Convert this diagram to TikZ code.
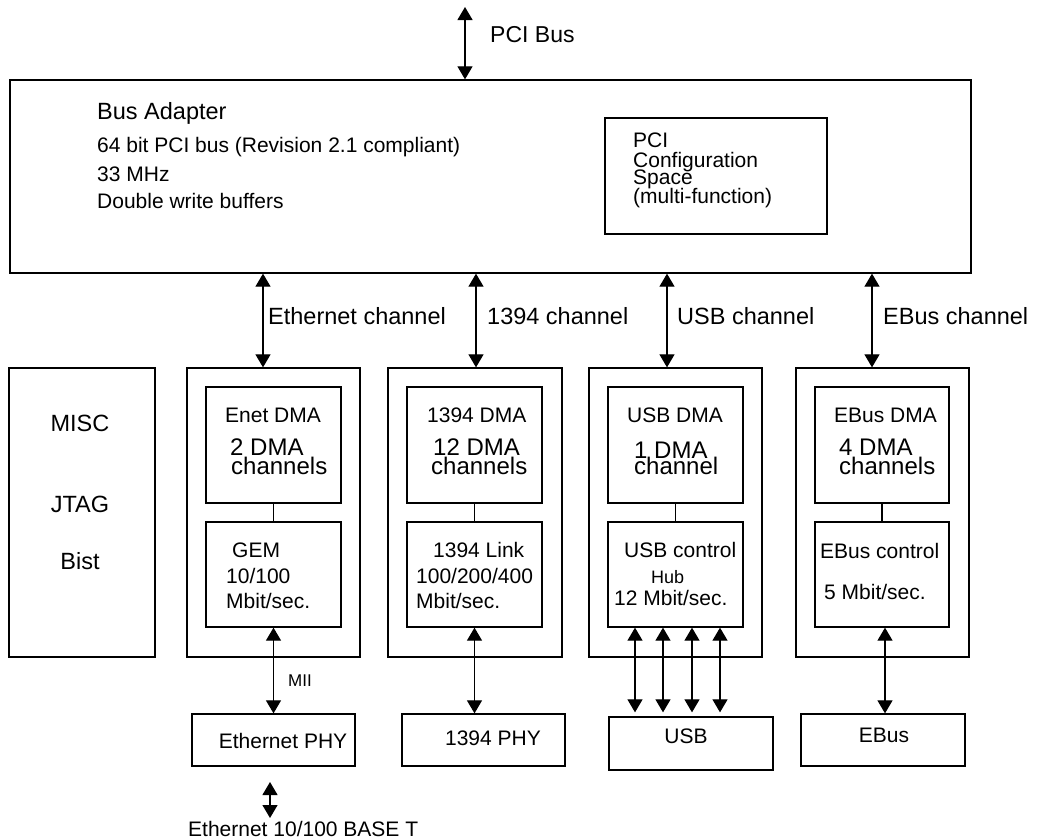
\documentclass[tikz,border=0pt]{standalone}
\usepackage{fontspec}
\setmainfont{Liberation Sans}
\usetikzlibrary{arrows.meta,calc}
\newcommand\fsz[1]{\fontsize{#1}{#1}\selectfont}
\begin{document}
\begin{tikzpicture}[x=1pt,y=-1pt,
  box/.style={draw, line width=1.3pt, inner sep=0pt, rectangle},
  t/.style={anchor=base west, inner sep=0pt, font=\fsz{21}},
  tc/.style={anchor=base, inner sep=0pt, font=\fsz{21}},
  arr/.style={line width=1.2pt, {Triangle[length=13pt,width=15pt]}-{Triangle[length=13pt,width=15pt]}},
  arrb/.style={line width=1.2pt, {Triangle[length=13pt,width=15pt]}-{Triangle[length=13pt,width=15pt]}},
  conn/.style={line width=1.2pt}]
\useasboundingbox (0,0) rectangle (1044,839);
% boxes
\node[box, minimum width=961pt, minimum height=193pt] (bus) at (490.5,176.5) {};
\node[box, minimum width=222pt, minimum height=116pt] (cfg) at (716,176) {};
\node[box, minimum width=146pt, minimum height=289pt] (misc) at (82,512.5) {};
\node[box, minimum width=173pt, minimum height=289pt] (ethout) at (273.5,512.5) {};
\node[box, minimum width=135pt, minimum height=116pt] (ethdma) at (273.5,445) {};
\node[box, minimum width=135pt, minimum height=105pt] (gem) at (273.5,574.5) {};
\node[box, minimum width=174pt, minimum height=289pt] (fwout) at (475,512.5) {};
\node[box, minimum width=135pt, minimum height=116pt] (fwdma) at (474.5,445) {};
\node[box, minimum width=135pt, minimum height=105pt] (fwlink) at (474.5,574.5) {};
\node[box, minimum width=173pt, minimum height=289pt] (usbout) at (675.5,512.5) {};
\node[box, minimum width=135pt, minimum height=116pt] (usbdma) at (675.5,445) {};
\node[box, minimum width=135pt, minimum height=105pt] (usbctl) at (675.5,574.5) {};
\node[box, minimum width=173pt, minimum height=289pt] (ebout) at (882.5,512.5) {};
\node[box, minimum width=134pt, minimum height=116pt] (ebdma) at (882,445) {};
\node[box, minimum width=134pt, minimum height=105pt] (ebctl) at (882,574.5) {};
\node[box, minimum width=163pt, minimum height=52pt] (ethphy) at (273.5,740) {};
\node[box, minimum width=163pt, minimum height=52pt] (fwphy) at (483.5,740) {};
\node[box, minimum width=164pt, minimum height=53pt] (usbbox) at (691,743.5) {};
\node[box, minimum width=164pt, minimum height=52pt] (ebbox) at (883,740) {};
% texts top
\node[t, font=\fsz{23}] (pcibus) at (490,42) {PCI Bus};
\node[t, font=\fsz{23.5}] (ba1) at (97,119) {Bus Adapter};
\node[t] (ba2) at (97,152) {64 bit PCI bus (Revision 2.1 compliant)};
\node[t] (ba3) at (97,181) {33 MHz};
\node[t] (ba4) at (97,208) {Double write buffers};
\node[t] (cf1) at (633,147) {PCI};
\node[t] (cf2) at (633,167) {Configuration};
\node[t] (cf3) at (633,184) {Space};
\node[t] (cf4) at (633,203) {(multi-function)};
% channel labels
\node[t, font=\fsz{23.5}] (l1) at (268,324) {Ethernet channel};
\node[t, font=\fsz{23.5}] (l2) at (487,324) {1394 channel};
\node[t, font=\fsz{23.5}] (l3) at (677,324) {USB channel};
\node[t, font=\fsz{23.5}] (l4) at (883,324) {EBus channel};
% misc
\node[tc, font=\fsz{23.5}] (m1) at (80,431) {MISC};
\node[tc, font=\fsz{23.5}] (m2) at (80,512) {JTAG};
\node[tc, font=\fsz{23.5}] (m3) at (80,569) {Bist};
% ethernet column
\node[t] (e1) at (225,422) {Enet DMA};
\node[t, font=\fsz{24}] (e2) at (230,455) {2 DMA};
\node[t, font=\fsz{24}] (e3) at (231,474) {channels};
\node[t] (e4) at (232,557) {GEM};
\node[t] (e5) at (226,583) {10/100};
\node[t] (e6) at (226,608) {Mbit/sec.};
% 1394 column
\node[t] (f1) at (427,422) {1394 DMA};
\node[t, font=\fsz{24}] (f2) at (433,455) {12 DMA};
\node[t, font=\fsz{24}] (f3) at (431,474) {channels};
\node[t] (f4) at (433,557) {1394 Link};
\node[t] (f5) at (416,583) {100/200/400};
\node[t] (f6) at (416,608) {Mbit/sec.};
% usb column
\node[t] (u1) at (627,422) {USB DMA};
\node[t, font=\fsz{24}] (u2) at (634,458) {1 DMA};
\node[t, font=\fsz{24}] (u3) at (634,474) {channel};
\node[t] (u4) at (624,557) {USB control};
\node[t, font=\fsz{18}] (u5) at (651,583) {Hub};
\node[t] (u6) at (614,605) {12 Mbit/sec.};
% ebus column
\node[t] (b1) at (834,422) {EBus DMA};
\node[t, font=\fsz{24}] (b2) at (839,455) {4 DMA};
\node[t, font=\fsz{24}] (b3) at (839,474) {channels};
\node[t] (b4) at (820,558) {EBus control};
\node[t] (b5) at (824,599) {5 Mbit/sec.};
% bottom texts
\node[t, font=\fsz{17}] (mii) at (288,686) {MII};
\node[tc] (tp1) at (283,748) {Ethernet PHY};
\node[tc] (tp2) at (493,745) {1394 PHY};
\node[tc] (tp3) at (686,743) {USB};
\node[tc] (tp4) at (884,742) {EBus};
\node[t] (bt) at (188,836) {Ethernet 10/100 BASE T};
% coordinates
\coordinate (pcitop) at (465,7);
\coordinate (x1) at (263,0);
\coordinate (x2) at (476,0);
\coordinate (x3) at (667,0);
\coordinate (x4) at (872,0);
\coordinate (ua) at (635,0);
\coordinate (ub) at (663,0);
\coordinate (uc) at (692,0);
\coordinate (ud) at (720,0);
\coordinate (xe) at (885,0);
\coordinate (bta) at (270,782);
\coordinate (btb) at (270,818);
% arrows
\draw[arr] (pcitop) -- (pcitop |- bus.north);
\draw[arr] (bus.south -| x1) -- (ethout.north -| x1);
\draw[arr] (bus.south -| x2) -- (fwout.north -| x2);
\draw[arr] (bus.south -| x3) -- (usbout.north -| x3);
\draw[arr] (bus.south -| x4) -- (ebout.north -| x4);
\draw[conn] (ethdma.south) -- (gem.north);
\draw[conn] (fwdma.south) -- (fwlink.north);
\draw[conn] (usbdma.south) -- (usbctl.north);
\draw[conn] (ebdma.south) -- (ebctl.north);
\draw[arrb] (gem.south) -- (ethphy.north -| gem.south);
\draw[arrb] (fwlink.south) -- (fwphy.north -| fwlink.south);
\draw[arrb] (usbctl.south -| ua) -- ($(usbbox.north -| ua)+(0,-4)$);
\draw[arrb] (usbctl.south -| ub) -- ($(usbbox.north -| ub)+(0,-4)$);
\draw[arrb] (usbctl.south -| uc) -- ($(usbbox.north -| uc)+(0,-4)$);
\draw[arrb] (usbctl.south -| ud) -- ($(usbbox.north -| ud)+(0,-4)$);
\draw[arrb] (ebctl.south -| xe) -- (ebbox.north -| xe);
\draw[arrb] (bta) -- (btb);
\end{tikzpicture}
\end{document}
